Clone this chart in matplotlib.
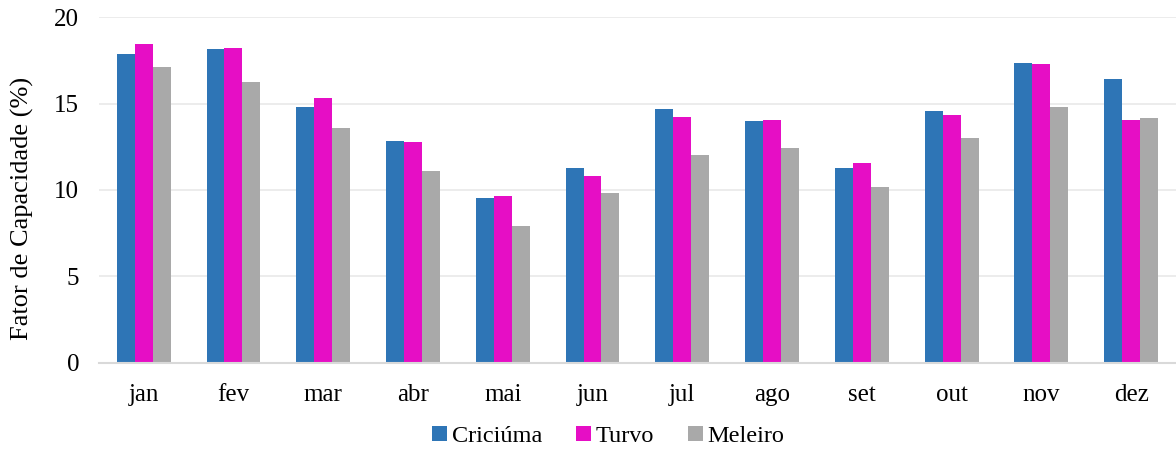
import matplotlib.pyplot as plt
import numpy as np

# fator de capacidade mensal por cidade (%)
meses = ['jan', 'fev', 'mar', 'abr', 'mai', 'jun', 'jul', 'ago', 'set', 'out', 'nov', 'dez']
criciuma = [17.84, 18.15, 14.77, 12.84, 9.52, 11.27, 14.67, 13.96, 11.25, 14.54, 17.32, 16.39]
turvo = [18.47, 18.20, 15.33, 12.76, 9.63, 10.83, 14.21, 14.02, 11.58, 14.36, 17.28, 14.02]
meleiro = [17.14, 16.27, 13.59, 11.08, 7.93, 9.81, 12.01, 12.41, 10.15, 13.03, 14.77, 14.15]

plt.rcParams['font.family'] = ['Liberation Serif', 'DejaVu Serif']

fig = plt.figure(figsize=(11.76, 4.5), dpi=100)
ax = fig.add_axes([0.084, 0.194, 0.916, 0.768])

x = np.arange(len(meses))
w = 0.2
ax.bar(x - w, criciuma, width=w, color='#2E75B6', label='Criciúma', zorder=3)
ax.bar(x, turvo, width=w, color='#E60EC5', label='Turvo', zorder=3)
ax.bar(x + w, meleiro, width=w, color='#A9A9A9', label='Meleiro', zorder=3)

ax.set_xlim(-0.5, len(meses) - 0.5)
ax.set_ylim(0, 20)
ax.set_yticks([0, 5, 10, 15, 20])
ax.set_xticks(x)
ax.set_xticklabels(meses)
ax.tick_params(axis='both', length=0, labelsize=18, colors='black')
ax.tick_params(axis='x', pad=15)
ax.tick_params(axis='y', pad=14)
ax.set_ylabel('Fator de Capacidade (%)', fontsize=19)
ax.yaxis.set_label_coords(-0.06, 0.447)

ax.yaxis.grid(True, color='#EBEBEB', linewidth=1.3, zorder=0)
for s in ['top', 'right', 'left']:
    ax.spines[s].set_visible(False)
ax.spines['bottom'].set_color('#D9D9D9')
ax.spines['bottom'].set_linewidth(1.5)
ax.spines['bottom'].set_zorder(4)

ax.legend(loc='center', bbox_to_anchor=(0.473, -0.213), ncol=3, frameon=False,
          fontsize=17.5, handlelength=0.6, handleheight=0.6, handletextpad=0.2, columnspacing=1.4,
          borderpad=0.1)

plt.savefig('out.png', dpi=100)
